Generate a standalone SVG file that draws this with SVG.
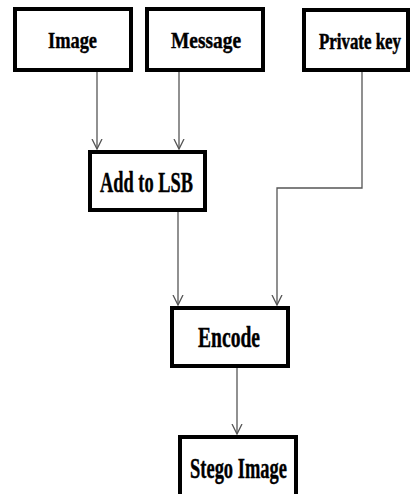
<svg xmlns="http://www.w3.org/2000/svg" width="412" height="494" viewBox="0 0 412 494">
<style>
.box{fill:#fff;stroke:#000;stroke-width:4}
.lbl{font-family:'Liberation Serif','Times New Roman','DejaVu Serif',serif;font-weight:bold;fill:#000;stroke:#000;stroke-width:0.4;text-anchor:middle}
.top{font-size:23px}
.low{font-size:29px}
.con{fill:none;stroke:#555;stroke-width:1.3}
</style>
<defs>
<marker id="arr" viewBox="0 0 12 12" refX="10" refY="6" markerWidth="12" markerHeight="12" markerUnits="userSpaceOnUse" orient="auto">
<path d="M0,1 L10,6 L0,11" fill="none" stroke="#555" stroke-width="1.3"/>
</marker>
</defs>
<rect width="412" height="494" fill="#fff"/>
<g id="connectors">
<line class="con" x1="97" y1="72" x2="97" y2="149" marker-end="url(#arr)"/>
<line class="con" x1="179" y1="72" x2="179" y2="149" marker-end="url(#arr)"/>
<polyline class="con" points="362,72 362,188 277,188 277,305" marker-end="url(#arr)"/>
<line class="con" x1="178" y1="212" x2="178" y2="305" marker-end="url(#arr)"/>
<line class="con" x1="237" y1="368" x2="237" y2="434" marker-end="url(#arr)"/>
</g>
<g id="image">
<rect class="box" x="15" y="9" width="116" height="61"/>
<text class="lbl top" x="72.5" y="47.5" textLength="49" lengthAdjust="spacingAndGlyphs">Image</text>
</g>
<g id="message">
<rect class="box" x="147" y="9" width="116" height="61"/>
<text class="lbl top" x="206" y="48" textLength="70" lengthAdjust="spacingAndGlyphs">Message</text>
</g>
<g id="private-key">
<rect class="box" x="304" y="10" width="104" height="60"/>
<text class="lbl" font-size="17" stroke-width="0.3" transform="translate(360,49) scale(1,1.35)" x="0" y="0" textLength="82" lengthAdjust="spacingAndGlyphs">Private key</text>
</g>
<g id="add-to-lsb">
<rect class="box" x="90" y="152" width="115" height="58"/>
<text class="lbl low" x="146.5" y="192" textLength="93" lengthAdjust="spacingAndGlyphs">Add to LSB</text>
</g>
<g id="encode">
<rect class="box" x="172" y="308" width="116" height="58"/>
<text class="lbl low" x="229" y="347" textLength="62" lengthAdjust="spacingAndGlyphs">Encode</text>
</g>
<g id="stego-image">
<rect class="box" x="180" y="437" width="116" height="62"/>
<text class="lbl low" x="238.5" y="478" textLength="97" lengthAdjust="spacingAndGlyphs">Stego Image</text>
</g>
</svg>
